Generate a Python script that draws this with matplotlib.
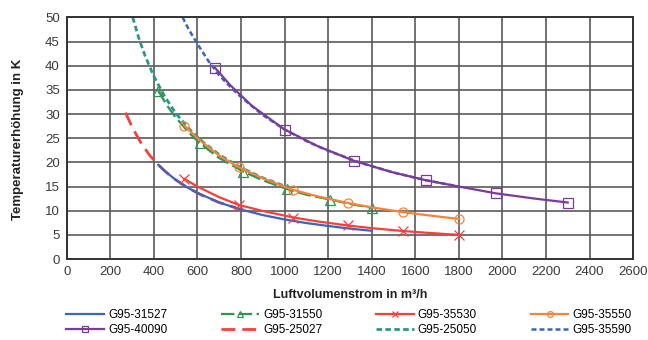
import matplotlib
matplotlib.use("Agg")
import matplotlib.pyplot as plt

plt.rcParams["font.family"] = ["Liberation Sans", "DejaVu Sans"]

# values
x_31527 = [420, 450, 500, 550, 600, 700, 800, 900, 1000, 1100, 1200, 1300, 1400]
y_31527 = [19.5, 18.2, 16.4, 14.9, 13.7, 11.7, 10.25, 9.1, 8.2, 7.45, 6.85, 6.3, 5.85]

x_31550 = [420, 460, 500, 560, 610, 700, 810, 900, 1010, 1100, 1210, 1300, 1400]
y_31550 = [34.8, 31.8, 29.3, 26.2, 24.0, 20.9, 18.1, 16.3, 14.5, 13.3, 12.3, 11.4, 10.6]

x_35530 = [540, 600, 700, 790, 900, 1040, 1150, 1290, 1400, 1545, 1650, 1800]
y_35530 = [16.6, 15.0, 12.8, 11.2, 9.95, 8.6, 7.8, 6.95, 6.4, 5.8, 5.45, 5.0]

x_35550 = [540, 600, 700, 790, 900, 1040, 1150, 1290, 1400, 1545, 1650, 1800]
y_35550 = [27.6, 25.0, 21.4, 19.0, 16.7, 14.3, 13.0, 11.6, 10.7, 9.7, 9.1, 8.3]

x_40090 = [680, 750, 850, 1000, 1150, 1320, 1500, 1650, 1800, 1970, 2150, 2300]
y_40090 = [39.6, 36.0, 31.7, 26.8, 23.4, 20.3, 17.9, 16.3, 15.0, 13.6, 12.5, 11.7]

x_25027 = [270, 300, 340, 380, 420, 480, 550, 620, 700, 800]
y_25027 = [30.3, 27.3, 24.1, 21.5, 19.5, 17.0, 14.9, 13.2, 11.7, 10.25]

x_25050 = [303, 330, 360, 400, 450, 500, 560, 620, 700, 800, 900, 1000]
y_25050 = [50.0, 45.8, 42.0, 37.8, 33.6, 30.2, 27.0, 24.4, 21.6, 18.9, 16.8, 15.1]

x_35590 = [532, 560, 600, 650, 700, 760, 800, 900, 1000, 1100, 1200, 1350, 1500, 1650, 1800]
y_35590 = [50.0, 47.5, 44.5, 41.0, 38.0, 35.2, 33.5, 29.8, 26.8, 24.4, 22.4, 19.9, 17.9, 16.3, 15.0]

x_ticks = list(range(0, 2601, 200))
y_ticks = list(range(0, 51, 5))

blue = "#3b64bb"
green = "#2f9455"
red = "#f5403c"
orange = "#f5843a"
purple = "#7a3b9c"
teal = "#2a9688"

fig = plt.figure(figsize=(6.48, 3.40), dpi=100)
ax = fig.add_axes([0.103, 0.238, 0.874, 0.711])

h = {}
h["G95-25027"], = ax.plot(x_25027, y_25027, color=red, lw=2, dashes=(5, 2.5), zorder=2)
h["G95-31527"], = ax.plot(x_31527, y_31527, color=blue, lw=1.6, zorder=3)
h["G95-31550"], = ax.plot(x_31550, y_31550, color=green, lw=1.6, dashes=(6, 2),
                          marker="^", ms=6.5, mfc="none", mew=0.9,
                          markevery=[0, 4, 6, 8, 10, 12], zorder=3)
h["G95-35530"], = ax.plot(x_35530, y_35530, color=red, lw=1.6, marker="x", ms=6.5, mew=0.9,
                          markevery=[0, 3, 5, 7, 9, 11], zorder=3)
h["G95-35550"], = ax.plot(x_35550, y_35550, color=orange, lw=1.6, marker="o", ms=6.5,
                          mfc="none", mew=0.9, markevery=[0, 3, 5, 7, 9, 11], zorder=4)
h["G95-40090"], = ax.plot(x_40090, y_40090, color=purple, lw=1.6, marker="s", ms=6.5,
                          mfc="none", mew=0.9, markevery=[0, 3, 5, 7, 9, 11], zorder=3)
h["G95-25050"], = ax.plot(x_25050, y_25050, color=teal, lw=2, dashes=(2, 1.2), zorder=2)
h["G95-35590"], = ax.plot(x_35590, y_35590, color=blue, lw=1.8, dashes=(2, 1.2), zorder=2)

ax.set_xlim(0, 2600)
ax.set_ylim(0, 50)
ax.set_xticks(x_ticks)
ax.set_yticks(y_ticks)
ax.tick_params(length=0, labelsize=9.5, colors="#3a3a3a", pad=5)
ax.grid(True, color="#5a5a5a", lw=1.2)
ax.set_axisbelow(True)
for s in ax.spines.values():
    s.set_color("#333333")
    s.set_linewidth(1.4)

fig.text(0.028, 0.59, "Temperaturerhöhung in K", rotation=90, ha="center", va="center",
         fontsize=9.5, fontweight="bold", color="#222222")
fig.text(0.54, 0.132, "Luftvolumenstrom in m³/h", ha="center", va="center",
         fontsize=9, fontweight="bold", color="#222222")

# matplotlib fills legend columns first, so order for row-wise reading
order = ["G95-31527", "G95-40090", "G95-31550", "G95-25027",
         "G95-35530", "G95-25050", "G95-35550", "G95-35590"]
fig.legend([h[k] for k in order], order, ncol=4, loc="upper left",
           bbox_to_anchor=(0.102, 0.09), frameon=False, fontsize=8.5,
           handlelength=3.2, handletextpad=0.35, columnspacing=4.55,
           labelspacing=0.25, borderaxespad=0, borderpad=0, markerscale=0.65)

fig.savefig("out.png", dpi=100)
